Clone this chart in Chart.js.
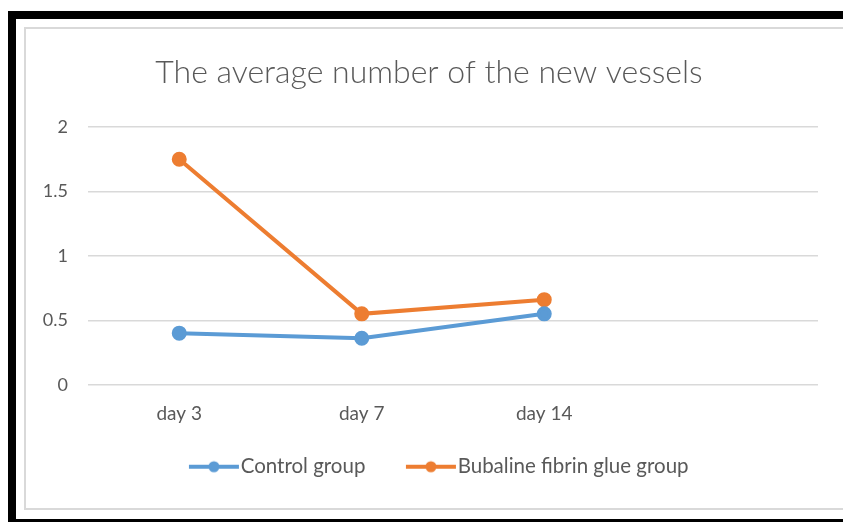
<!DOCTYPE html>
<html>
<head>
<meta charset="utf-8">
<script src="https://cdn.jsdelivr.net/npm/chart.js@4"></script>
<style>
  html, body { margin: 0; padding: 0; background: #fff; overflow: hidden; width: 843px; height: 522px; }
  body { position: relative; }
  .bar { position: absolute; }
  #wrap { position: absolute; left: 26px; top: 29px; width: 817px; height: 479px; }
</style>
</head>
<body>
<!-- black photo frame -->
<div class="bar" style="left:8px; top:11px; width:835px; height:8px; background:#000"></div>
<div class="bar" style="left:8px; top:11px; width:8px; height:511px; background:#000"></div>
<div class="bar" style="left:8px; top:519px; width:835px; height:3px; background:#000"></div>
<!-- light chart border -->
<div class="bar" style="left:24px; top:27px; width:819px; height:2px; background:#d9d9d9"></div>
<div class="bar" style="left:24px; top:27px; width:2px; height:483px; background:#d9d9d9"></div>
<div class="bar" style="left:24px; top:508px; width:819px; height:2px; background:#d9d9d9"></div>
<div id="wrap"><canvas id="chart"></canvas></div>
<script>
const days = ["day 3", "day 7", "day 14", ""];
const controlGroup = [0.4, 0.36, 0.55];
const fibrinGlueGroup = [1.75, 0.55, 0.66];
const yTicks = [0, 0.5, 1, 1.5, 2];

const BLUE = "#5b9bd5";
const ORANGE = "#ed7d31";
const TEXT = "#595959";

// legend marker: a short line with a dot, blank space on its left keeps items apart
function legendMarker(color) {
  const c = document.createElement("canvas");
  c.width = 80;
  c.height = 14;
  const g = c.getContext("2d");
  g.strokeStyle = color;
  g.lineWidth = 4;
  g.beginPath();
  g.moveTo(29, 7);
  g.lineTo(79, 7);
  g.stroke();
  g.fillStyle = color;
  g.beginPath();
  g.arc(54, 7, 5.5, 0, Math.PI * 2);
  g.fill();
  return c;
}
const markers = [legendMarker(BLUE), legendMarker(ORANGE)];

new Chart(document.getElementById("chart"), {
  type: "line",
  data: {
    labels: days,
    datasets: [
      {
        label: "Control group",
        data: controlGroup,
        borderColor: BLUE,
        backgroundColor: BLUE,
        borderWidth: 4,
        pointRadius: 5.5,
        tension: 0,
      },
      {
        label: "Bubaline fibrin glue group",
        data: fibrinGlueGroup,
        borderColor: ORANGE,
        backgroundColor: ORANGE,
        borderWidth: 4,
        pointRadius: 5.5,
        tension: 0,
      },
    ],
  },
  options: {
    responsive: true,
    maintainAspectRatio: false,
    animation: false,
    layout: { padding: { top: 8, right: 25, bottom: 21, left: 14 } },
    plugins: {
      title: {
        display: true,
        text: "The average number of the new vessels",
        color: TEXT,
        font: { family: "Lato", size: 32, weight: "300" },
        padding: { top: 16, bottom: 35.6 },
      },
      legend: {
        position: "bottom",
        labels: {
          usePointStyle: true,
          pointStyleWidth: 61,
          color: TEXT,
          font: { family: "Lato", size: 20.5 },
          padding: 21,
          generateLabels: (chart) => {
            const items = Chart.defaults.plugins.legend.labels.generateLabels(chart);
            items.forEach((it, i) => { it.pointStyle = markers[i]; });
            return items;
          },
        },
      },
      tooltip: { enabled: false },
    },
    scales: {
      x: {
        offset: true,
        grid: { display: false },
        border: { display: false },
        ticks: { color: TEXT, font: { family: "Lato", size: 19 }, padding: 10 },
      },
      y: {
        min: 0,
        max: 2,
        afterBuildTicks: (scale) => {
          scale.ticks = yTicks.map((v) => ({ value: v }));
        },
        afterFit: (scale) => {
          scale.width = 48;
        },
        grid: { color: "#d9d9d9", lineWidth: 1.5, drawTicks: false },
        border: { display: false },
        ticks: {
          color: TEXT,
          font: { family: "Lato", size: 18 },
          padding: 20,
          callback: (v) => String(v),
        },
      },
    },
  },
});
</script>
</body>
</html>
